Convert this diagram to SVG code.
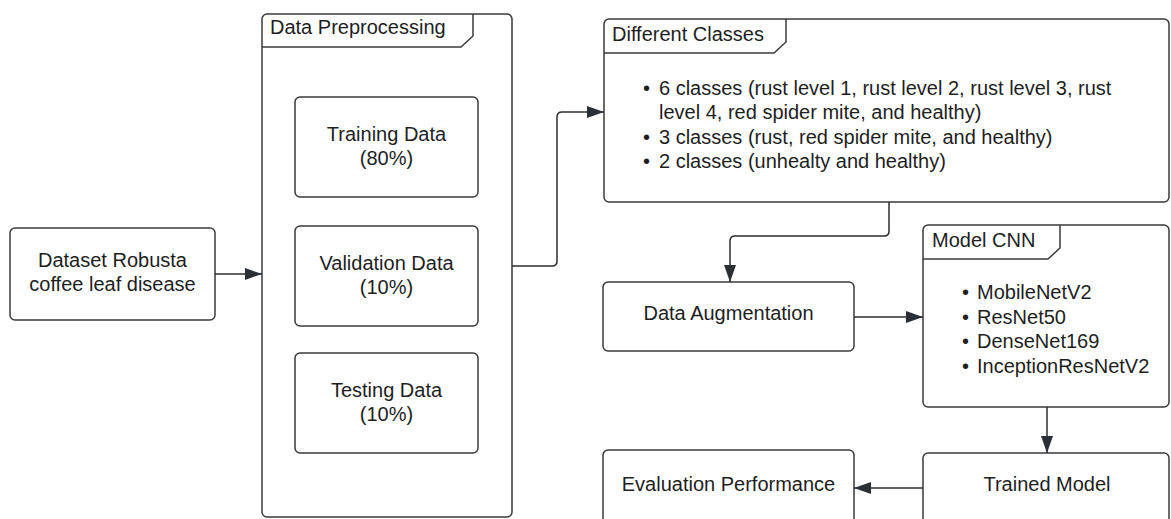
<svg xmlns="http://www.w3.org/2000/svg" width="1171" height="519" viewBox="0 0 1171 519">
  <style>
    .box { fill: #ffffff; stroke: #3a3a3a; stroke-width: 1.5; }
    .tab { fill: none; stroke: #3a3a3a; stroke-width: 1.5; }
    .t { font-family: "Liberation Sans", Arial, sans-serif; font-size: 20px; fill: #1e1e1e; }
    .c { text-anchor: middle; }
    .conn { fill: none; stroke: #2e2e2e; stroke-width: 1.5; }
  </style>
  <defs>
    <marker id="arrow" markerUnits="userSpaceOnUse" markerWidth="18" markerHeight="12" refX="17" refY="6" orient="auto">
      <path d="M0,0 L17,6 L0,12 z" fill="#2a2e35"/>
    </marker>
  </defs>
  <rect width="1171" height="519" fill="#ffffff"/>

  <g id="dataset">
    <rect class="box" x="10" y="228" width="205" height="92" rx="5"/>
    <text class="t c" x="112.5" y="267">Dataset Robusta</text>
    <text class="t c" x="112.5" y="291">coffee leaf disease</text>
  </g>

  <g id="data-preprocessing">
    <rect class="box" x="262" y="14" width="250" height="503" rx="5"/>
    <path class="tab" d="M262,47 H461 L473,36 V14"/>
    <text class="t" x="270" y="34">Data Preprocessing</text>
  </g>

  <g id="training-data">
    <rect class="box" x="295" y="97" width="183" height="100" rx="5"/>
    <text class="t c" x="386.5" y="141">Training Data</text>
    <text class="t c" x="386.5" y="165">(80%)</text>
  </g>

  <g id="validation-data">
    <rect class="box" x="295" y="226" width="183" height="100" rx="5"/>
    <text class="t c" x="386.5" y="270">Validation Data</text>
    <text class="t c" x="386.5" y="294">(10%)</text>
  </g>

  <g id="testing-data">
    <rect class="box" x="295" y="353" width="183" height="100" rx="5"/>
    <text class="t c" x="386.5" y="397">Testing Data</text>
    <text class="t c" x="386.5" y="421">(10%)</text>
  </g>

  <g id="different-classes">
    <rect class="box" x="604" y="19" width="565" height="183" rx="5"/>
    <path class="tab" d="M604,53 H774 L786,42 V19"/>
    <text class="t" x="612" y="41">Different Classes</text>
    <text class="t" x="643" y="95">•</text>
    <text class="t" x="659" y="95">6 classes (rust level 1, rust level 2, rust level 3, rust</text>
    <text class="t" x="659" y="119.3">level 4, red spider mite, and healthy)</text>
    <text class="t" x="643" y="143.6">•</text>
    <text class="t" x="659" y="143.6">3 classes (rust, red spider mite, and healthy)</text>
    <text class="t" x="643" y="168">•</text>
    <text class="t" x="659" y="168">2 classes (unhealty and healthy)</text>
  </g>

  <g id="data-augmentation">
    <rect class="box" x="603" y="282" width="251" height="69" rx="5"/>
    <text class="t c" x="728.5" y="320">Data Augmentation</text>
  </g>

  <g id="model-cnn">
    <rect class="box" x="923" y="225" width="246" height="182" rx="5"/>
    <path class="tab" d="M923,259 H1048 L1060,248 V225"/>
    <text class="t" x="932" y="247">Model CNN</text>
    <text class="t" x="962" y="299">•</text>
    <text class="t" x="977" y="299">MobileNetV2</text>
    <text class="t" x="962" y="323.5">•</text>
    <text class="t" x="977" y="323.5">ResNet50</text>
    <text class="t" x="962" y="348">•</text>
    <text class="t" x="977" y="348">DenseNet169</text>
    <text class="t" x="962" y="372.5">•</text>
    <text class="t" x="977" y="372.5">InceptionResNetV2</text>
  </g>

  <g id="trained-model">
    <rect class="box" x="923" y="453" width="246" height="80" rx="5"/>
    <text class="t c" x="1047" y="491">Trained Model</text>
  </g>

  <g id="evaluation-performance">
    <rect class="box" x="603" y="450" width="251" height="80" rx="5"/>
    <text class="t c" x="728.5" y="491">Evaluation Performance</text>
  </g>

  <g id="connectors">
    <path class="conn" d="M215,274 H262" marker-end="url(#arrow)"/>
    <path class="conn" d="M512,266 H552 Q557,266 557,261 V117 Q557,112 562,112 H604" marker-end="url(#arrow)"/>
    <path class="conn" d="M889,202 V231 Q889,236 884,236 H735 Q730,236 730,241 V282" marker-end="url(#arrow)"/>
    <path class="conn" d="M854,317 H923" marker-end="url(#arrow)"/>
    <path class="conn" d="M1047,407 V453" marker-end="url(#arrow)"/>
    <path class="conn" d="M923,488 H854" marker-end="url(#arrow)"/>
  </g>
</svg>
